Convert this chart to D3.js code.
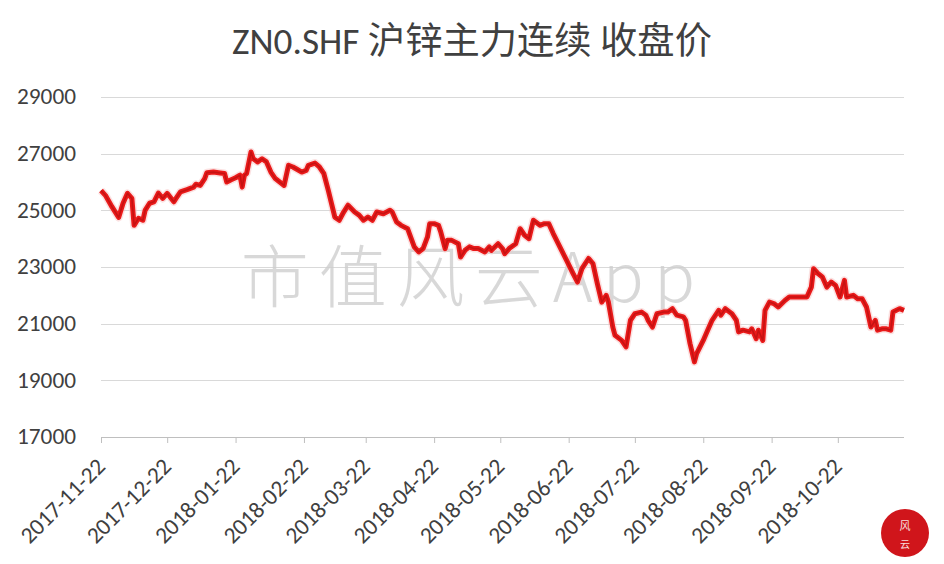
<!DOCTYPE html>
<html><head><meta charset="utf-8">
<script src="https://cdn.jsdelivr.net/npm/d3@7"></script>
<style>
html,body{margin:0;padding:0;background:#fff;}
svg{display:block;}
</style></head>
<body>
<svg id="chart" width="944" height="564"></svg>
<script>
const title = "ZN0.SHF 沪锌主力连续 收盘价";
const yTicks = [17000, 19000, 21000, 23000, 25000, 27000, 29000];
const xTickLabels = ["2017-11-22","2017-12-22","2018-01-22","2018-02-22","2018-03-22","2018-04-22","2018-05-22","2018-06-22","2018-07-22","2018-08-22","2018-09-22","2018-10-22"];
const dates = [
"2017-11-22","2017-11-24","2017-11-27","2017-11-30","2017-12-02","2017-12-04","2017-12-06","2017-12-07","2017-12-09","2017-12-11",
"2017-12-12","2017-12-14","2017-12-16","2017-12-18","2017-12-20","2017-12-22","2017-12-25","2017-12-26","2017-12-28","2017-12-31",
"2018-01-03","2018-01-04","2018-01-06","2018-01-08","2018-01-09","2018-01-12","2018-01-15","2018-01-17","2018-01-18","2018-01-20",
"2018-01-22","2018-01-24","2018-01-25","2018-01-26","2018-01-27","2018-01-29","2018-01-30","2018-02-01","2018-02-03","2018-02-05",
"2018-02-07","2018-02-09","2018-02-12","2018-02-13","2018-02-15","2018-02-17","2018-02-19","2018-02-21","2018-02-23","2018-02-24",
"2018-02-27","2018-03-01","2018-03-03","2018-03-05","2018-03-08","2018-03-10","2018-03-12","2018-03-14","2018-03-17","2018-03-19",
"2018-03-21","2018-03-23","2018-03-25","2018-03-27","2018-03-30","2018-04-02","2018-04-03","2018-04-05","2018-04-07","2018-04-10",
"2018-04-13","2018-04-15","2018-04-17","2018-04-19","2018-04-20","2018-04-22","2018-04-24","2018-04-25","2018-04-27","2018-04-28",
"2018-04-30","2018-05-03","2018-05-04","2018-05-06","2018-05-08","2018-05-10","2018-05-12","2018-05-15","2018-05-17","2018-05-18",
"2018-05-21","2018-05-23","2018-05-24","2018-05-26","2018-05-29","2018-05-31","2018-06-02","2018-06-04","2018-06-06","2018-06-09",
"2018-06-11","2018-06-13","2018-06-15","2018-06-18","2018-06-21","2018-06-24","2018-06-26","2018-06-28","2018-07-01","2018-07-03",
"2018-07-05","2018-07-07","2018-07-09","2018-07-10","2018-07-12","2018-07-13","2018-07-16","2018-07-18","2018-07-20","2018-07-22",
"2018-07-25","2018-07-27","2018-07-28","2018-07-30","2018-08-01","2018-08-04","2018-08-06","2018-08-08","2018-08-10","2018-08-13",
"2018-08-14","2018-08-16","2018-08-18","2018-08-19","2018-08-22","2018-08-24","2018-08-26","2018-08-29","2018-08-30","2018-09-01",
"2018-09-04","2018-09-06","2018-09-07","2018-09-09","2018-09-12","2018-09-13","2018-09-15","2018-09-16","2018-09-18","2018-09-19",
"2018-09-21","2018-09-23","2018-09-25","2018-09-28","2018-09-30","2018-10-04","2018-10-08","2018-10-10","2018-10-11","2018-10-13",
"2018-10-15","2018-10-17","2018-10-19","2018-10-21","2018-10-23","2018-10-25","2018-10-26","2018-10-29","2018-10-31","2018-11-02",
"2018-11-04","2018-11-05","2018-11-06","2018-11-08","2018-11-09","2018-11-11","2018-11-13","2018-11-15","2018-11-16","2018-11-19",
"2018-11-21"];
const closes = [
25700,25530,25120,24750,25250,25600,25420,24470,24720,24650,
25000,25250,25300,25610,25420,25600,25300,25420,25650,25730,
25820,25920,25880,26120,26330,26350,26320,26300,26000,26080,
26150,26240,25820,26240,26300,27060,26820,26710,26820,26710,
26350,26120,25940,25880,26590,26530,26440,26350,26410,26590,
26670,26530,26300,25710,24760,24650,24940,25180,24940,24830,
24650,24760,24650,24940,24880,25000,24940,24590,24470,24350,
23710,23530,23650,24060,24530,24530,24470,24240,23650,23940,
23940,23820,23350,23590,23710,23650,23650,23530,23710,23590,
23820,23650,23470,23650,23820,24350,24120,24000,24650,24470,
24530,24530,24180,23710,23240,22770,22470,22940,23300,23120,
22410,21760,22000,21760,20880,20590,20410,20180,21120,21350,
21410,21300,21120,20880,21350,21410,21410,21530,21300,21240,
21120,20300,19650,19940,20410,20770,21120,21470,21300,21530,
21350,21120,20710,20770,20710,20820,20470,20770,20410,21470,
21760,21710,21590,21820,21940,21940,21940,22290,22940,22770,
22650,22290,22470,22350,21940,22530,21940,22000,21880,21880,
21590,21240,20880,21120,20770,20820,20820,20770,21410,21530,
21470];
const domainStart = "2017-11-22", domainEnd = "2018-11-21";

const parse = d3.timeParse("%Y-%m-%d");
const data = dates.map((d,i)=>({date:parse(d), value:closes[i]}));

const svg = d3.select("#chart");
const mLeft = 101, mRight = 904, mTop = 97, mBottom = 437;

const x = d3.scaleTime().domain([parse(domainStart), parse(domainEnd)]).range([mLeft, mRight]);
const y = d3.scaleLinear().domain([17000, 29000]).range([mBottom, mTop]);

const latin = "Carlito, 'Open Sans', 'Liberation Sans', sans-serif";

// scale a text's font so its rendered width equals a target width
function fitFont(sel, base, target) {
  const node = sel.node();
  sel.attr("font-size", base);
  const w = node.getComputedTextLength();
  return w > 0 ? base * target / w : base;
}

// title
const titleEl = svg.append("text").attr("x", 472).attr("y", 54).attr("text-anchor","middle")
  .attr("font-family", "Carlito,'Open Sans','Noto Sans CJK SC', sans-serif")
  .attr("fill", "#404040").text(title);
titleEl.attr("font-size", fitFont(titleEl, 30, 480));

// gridlines
svg.append("g").selectAll("line").data(yTicks.filter(t=>t!==17000)).join("line")
  .attr("x1", mLeft).attr("x2", mRight).attr("y1", d=>Math.round(y(d))+0.5).attr("y2", d=>Math.round(y(d))+0.5)
  .attr("stroke", "#d9d9d9").attr("stroke-width", 1);

// watermark
svg.append("text").attr("x", 473).attr("y", 302).attr("text-anchor","middle")
  .attr("font-family","'Noto Sans CJK SC', sans-serif").attr("font-weight", 300)
  .attr("font-size", 68).attr("letter-spacing", 10).attr("fill","#cfcfcf").attr("opacity",0.8)
  .text("市值风云App");

// y axis labels
const yAxis = d3.axisLeft(y).tickValues(yTicks).tickSize(0).tickPadding(25).tickFormat(d3.format("d"));
const gy = svg.append("g").attr("transform", `translate(${mLeft},0)`).call(yAxis);
gy.select(".domain").remove();
const yText = gy.selectAll("text").attr("font-family", latin).attr("fill", "#404040");
const labelFont = fitFont(d3.select(yText.nodes()[6]), 18, 59);
yText.attr("font-size", labelFont).attr("dy", "0.30em");

// x axis
const tickDates = xTickLabels.map(parse);
const xAxis = d3.axisBottom(x).tickValues(tickDates).tickSize(6).tickFormat(d3.timeFormat("%Y-%m-%d"));
const gx = svg.append("g").attr("transform", `translate(0,${mBottom})`).call(xAxis);
gx.select(".domain").attr("stroke", "#bfbfbf").attr("d", `M${mLeft},0.5H${mRight}`);
gx.selectAll(".tick line").attr("stroke", "#bfbfbf");
gx.selectAll("text").attr("font-family", latin).attr("font-size", labelFont).attr("fill", "#404040")
  .attr("text-anchor","end").attr("dy", 0).attr("y", 0)
  .attr("transform", "translate(5,31) rotate(-45)");

// line
const line = d3.line().x(d=>x(d.date)).y(d=>y(d.value)).curve(d3.curveLinear);
svg.append("path").datum(data).attr("d", line).attr("fill","none")
  .attr("stroke","#f7c4c4").attr("stroke-width",8).attr("stroke-linejoin","round").attr("opacity",0.5);
svg.append("path").datum(data).attr("d", line).attr("fill","none")
  .attr("stroke","#ea1a1a").attr("stroke-width",5).attr("stroke-linejoin","round");
svg.append("path").datum(data).attr("d", line).attr("fill","none")
  .attr("stroke","#a80d0d").attr("stroke-width",1.6).attr("stroke-linejoin","round").attr("opacity",0.55);

// seal logo
const seal = svg.append("g").attr("transform","translate(905,533)");
seal.append("circle").attr("r",24).attr("fill","#d0151b");
seal.append("text").attr("y",-3).attr("text-anchor","middle").attr("font-family","'Noto Sans CJK SC'")
  .attr("font-size",11).attr("fill","#fff").attr("opacity",0.85).text("风");
seal.append("text").attr("y",15).attr("text-anchor","middle").attr("font-family","'Noto Sans CJK SC'")
  .attr("font-size",10).attr("fill","#fff").attr("opacity",0.85).text("云");
</script>
</body></html>
